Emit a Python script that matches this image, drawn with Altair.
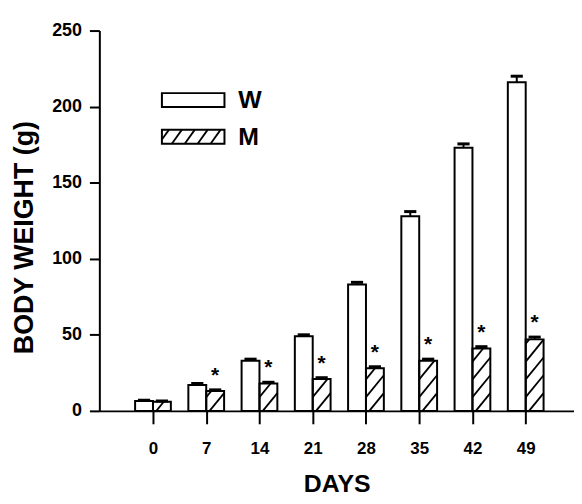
import altair as alt
import pandas as pd

# ---- data ----
days = [0, 7, 14, 21, 28, 35, 42, 49]
w_mean = [6.5, 17, 33, 49, 83, 128, 173, 216]
w_err = [0.5, 1, 1, 1, 1.5, 3, 2.5, 4]
m_mean = [6, 13, 18, 21, 28, 33, 41, 47]
m_err = [0.5, 0.8, 0.8, 0.8, 1, 1, 1.2, 1.5]
m_sig = [False, True, True, True, True, True, True, True]
y_ticks = [0, 50, 100, 150, 200, 250]

BAR_W = 2.35      # bar width in day units
CAP = 0.8         # half cap width in day units
HATCH_RISE = 14.4  # hatch rise across one bar (y units)
HATCH_STEP = 11.7  # vertical spacing of hatch lines (y units)

rows = []
for d, wm, we, mm, me, s in zip(days, w_mean, w_err, m_mean, m_err, m_sig):
    rows.append(dict(day=d, group="W", x0=d - BAR_W, x1=d, xc=d - BAR_W / 2,
                     mean=wm, top=wm + we, star=""))
    rows.append(dict(day=d, group="M", x0=d, x1=d + BAR_W, xc=d + BAR_W / 2,
                     mean=mm, top=mm + me, star="*" if s else ""))
df = pd.DataFrame(rows)
df["c0"] = df["xc"] - CAP
df["c1"] = df["xc"] + CAP

# hatch segments inside the M bars, derived from m_mean
hatch = []
for d, h in zip(days, m_mean):
    k = 0
    while True:
        s = k * HATCH_STEP - HATCH_RISE
        if s >= h:
            break
        t0 = max(0.0, -s / HATCH_RISE)
        t1 = min(1.0, (h - s) / HATCH_RISE)
        if t1 > t0:
            hatch.append(dict(hx0=d + t0 * BAR_W, hx1=d + t1 * BAR_W,
                              hy0=s + t0 * HATCH_RISE, hy1=s + t1 * HATCH_RISE))
        k += 1
hatch_df = pd.DataFrame(hatch)

xscale = alt.Scale(domain=[-7.05, 55.35], nice=False, zero=False)
yscale = alt.Scale(domain=[0, 250], nice=False)

xaxis = alt.Axis(values=days, title="DAYS", grid=False, domainColor="black",
                 domainWidth=2, tickColor="black", tickWidth=2, tickSize=13,
                 labelFontSize=17, labelFontWeight="bold", labelColor="black",
                 labelPadding=17, titleFontSize=25, titleFontWeight="bold",
                 titleColor="black", titleY=73, titleX=239, titleBaseline="middle")
yaxis = alt.Axis(values=y_ticks, title="BODY WEIGHT (g)", grid=False,
                 domainColor="black", domainWidth=2, tickColor="black",
                 tickWidth=2, tickSize=10, labelFontSize=18,
                 labelFontWeight="bold", labelColor="black", labelPadding=8,
                 titleFontSize=27, titleFontWeight="bold", titleColor="black",
                 titleAngle=270, titleX=-75, titleY=208, titleAlign="center",
                 titleBaseline="middle")

base = alt.Chart(df)

fill = base.mark_bar(fill="white", stroke=None).encode(
    x=alt.X("x0:Q", scale=xscale, axis=xaxis),
    x2="x1:Q",
    y=alt.Y("mean:Q", scale=yscale, axis=yaxis),
    y2=alt.datum(0),
)

hatch_lines = alt.Chart(hatch_df).mark_rule(color="black", strokeWidth=1.8).encode(
    x=alt.X("hx0:Q", scale=xscale), x2="hx1:Q",
    y=alt.Y("hy0:Q", scale=yscale), y2="hy1:Q",
)

outline = base.mark_bar(fill=None, stroke="black", strokeWidth=2).encode(
    x=alt.X("x0:Q", scale=xscale), x2="x1:Q",
    y=alt.Y("mean:Q", scale=yscale), y2=alt.datum(0),
)

err_v = base.mark_rule(color="black", strokeWidth=2).encode(
    x=alt.X("xc:Q", scale=xscale),
    y=alt.Y("mean:Q", scale=yscale), y2="top:Q",
)
err_cap = base.mark_rule(color="black", strokeWidth=3).encode(
    x=alt.X("c0:Q", scale=xscale), x2="c1:Q",
    y=alt.Y("top:Q", scale=yscale),
)

stars = base.mark_text(fontSize=21, fontWeight="bold", color="black",
                       baseline="alphabetic", dy=-8).encode(
    x=alt.X("xc:Q", scale=xscale),
    y=alt.Y("top:Q", scale=yscale),
    text="star:N",
)

# ---- manual legend ----
one = alt.Data(values=[{"a": 1}])
leg_layers = []
for y0, y1 in [(63, 77), (100, 114)]:
    leg_layers.append(alt.Chart(one).mark_rect(fill="white", stroke="black", strokeWidth=2).encode(
        x=alt.value(63), x2=alt.value(126), y=alt.value(y0), y2=alt.value(y1)))
for hx in [60, 73, 86, 99, 112]:
    xa, xb = max(hx, 63), min(hx + 10, 126)
    ya = 114 - (xa - hx) * 1.4
    yb = 114 - (xb - hx) * 1.4
    leg_layers.append(alt.Chart(one).mark_rule(color="black", strokeWidth=1.8).encode(
        x=alt.value(xa), x2=alt.value(xb), y=alt.value(ya), y2=alt.value(yb)))
for label, ly in [("W", 70), ("M", 107)]:
    leg_layers.append(alt.Chart(one).mark_text(
        text=label, fontSize=25, fontWeight="bold", color="black",
        align="left", baseline="middle").encode(x=alt.value(140), y=alt.value(ly)))

chart = alt.layer(fill, hatch_lines, outline, err_v, err_cap, stars, *leg_layers).properties(
    width=478, height=383,
    autosize=alt.AutoSizeParams(type="none"),
    padding={"left": 92, "top": 21, "right": 0, "bottom": 84},
).configure(font="Liberation Sans").configure_view(stroke=None)

chart.save("out.html", embed_options={"renderer": "svg", "actions": False})
